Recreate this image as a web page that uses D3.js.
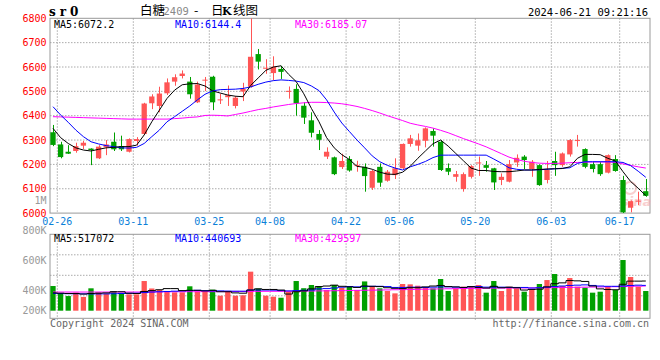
<html>
<head>
<script src="https://d3js.org/d3.v7.min.js"></script>
<style>
  body { margin: 0; background: #fff; }
  svg text { font-family: "DejaVu Sans Mono", monospace; font-size: 10px; }
</style>
</head>
<body>
<svg id="kline" width="660" height="360"></svg>
<script>
// trading days shown (02-23 .. 06-20)
const dates = ['02-23','02-26','02-27','02-28','02-29','03-01','03-04','03-05','03-06','03-07',
  '03-08','03-11','03-12','03-13','03-14','03-15','03-18','03-19','03-20','03-21',
  '03-22','03-25','03-26','03-27','03-28','03-29','04-01','04-02','04-03','04-08',
  '04-09','04-10','04-11','04-12','04-15','04-16','04-17','04-18','04-19','04-22',
  '04-23','04-24','04-25','04-26','04-29','04-30','05-06','05-07','05-08','05-09',
  '05-10','05-13','05-14','05-15','05-16','05-17','05-20','05-21','05-22','05-23',
  '05-24','05-27','05-28','05-29','05-30','05-31','06-03','06-04','06-05','06-06',
  '06-07','06-11','06-12','06-13','06-14','06-17','06-18','06-19','06-20'];

const open = [6332,6282,6252,6255,6277,6265,6225,6270,6293,6275, 6252,6296,6325,6451,6440,6492,6540,6563,6540,6455,
  6545,6560,6463,6476,6440,6499,6519,6653,6594,6575, 6592,6499,6510,6441,6381,6325,6232,6229,6189,6222,
  6194,6190,6104,6190,6133,6156,6184,6284,6277,6297, 6337,6293,6185,6149,6099,6149,6206,6197,6184,6136,
  6129,6208,6232,6181,6197,6136,6214,6197,6241,6296, 6263,6201,6201,6166,6222,6136,6022,6048,6090];
const high = [6362,6293,6279,6289,6296,6266,6279,6300,6331,6318, 6307,6312,6453,6488,6519,6553,6570,6586,6559,6540,
  6559,6564,6490,6524,6481,6535,6800,6674,6632,6644, 6605,6520,6529,6455,6414,6341,6270,6232,6244,6234,
  6215,6204,6177,6204,6177,6225,6286,6321,6327,6352, 6348,6300,6204,6173,6167,6197,6232,6214,6186,6163,
  6218,6241,6238,6218,6200,6214,6252,6249,6304,6321, 6266,6211,6211,6241,6238,6153,6052,6088,6140];
const low = [6275,6225,6243,6248,6263,6197,6222,6238,6255,6255, 6249,6277,6321,6427,6414,6485,6523,6553,6470,6452,
  6501,6423,6448,6440,6430,6460,6515,6590,6572,6545, 6551,6470,6400,6366,6311,6259,6222,6156,6181,6170,
  6170,6088,6095,6108,6129,6140,6181,6273,6256,6270, 6273,6173,6156,6129,6088,6142,6153,6170,6095,6115,
  6126,6190,6181,6149,6112,6122,6153,6190,6232,6273, 6184,6167,6153,6163,6170,6000,6003,6033,6067];
const close = [6280,6230,6244,6275,6289,6259,6273,6282,6262,6262, 6304,6304,6450,6479,6491,6537,6558,6573,6488,6528,
  6548,6455,6467,6484,6474,6510,6642,6622,6597,6601, 6580,6502,6451,6392,6330,6301,6252,6160,6214,6175,
  6197,6152,6173,6125,6170,6184,6284,6307,6299,6348, 6318,6177,6170,6160,6160,6193,6208,6186,6126,6149,
  6201,6227,6218,6211,6115,6177,6197,6245,6300,6300, 6190,6181,6160,6238,6173,6003,6049,6051,6071];

// moving averages as drawn on the chart
const ma5 = [6348,6310,6286,6268,6259,6255,6262,6268,6270,6273, 6273,6279,6321,6375,6423,6471,6505,6527,6531,6532,
  6522,6502,6493,6485,6480,6478,6524,6555,6586,6600, 6605,6570,6540,6490,6430,6375,6310,6268,6240,6220,
  6192,6188,6180,6168,6160,6159,6168,6192,6225,6255, 6285,6300,6275,6245,6215,6185,6175,6175,6171,6170,
  6170,6173,6177,6177,6179,6181,6182,6183,6190,6225, 6241,6241,6240,6225,6214,6170,6130,6102,6072];
const ma10 = [6437,6403,6373,6341,6314,6293,6284,6277,6273,6268, 6267,6270,6286,6314,6341,6375,6396,6418,6440,6465,
  6488,6502,6507,6508,6509,6512,6518,6529,6538,6544, 6547,6545,6542,6536,6522,6503,6465,6415,6370,6335,
  6300,6268,6235,6211,6196,6185,6177,6190,6200,6212, 6228,6238,6238,6238,6238,6238,6238,6238,6222,6205,
  6186,6180,6177,6177,6178,6180,6182,6184,6186,6204, 6211,6211,6211,6211,6211,6208,6195,6172,6147];
const ma30 = [6396,6395,6394,6393,6392,6391,6390,6389,6388,6387, 6386,6386,6386,6386,6386,6386,6388,6390,6393,6395,
  6401,6402,6401,6399,6405,6411,6418,6425,6430,6436, 6441,6446,6450,6453,6455,6455,6454,6452,6449,6444,
  6438,6430,6421,6411,6400,6390,6380,6369,6362,6356, 6349,6340,6330,6318,6306,6295,6284,6272,6258,6244,
  6230,6220,6213,6208,6205,6204,6204,6205,6207,6208, 6209,6210,6210,6210,6208,6202,6196,6190,6185];

// volume, in thousands of lots
const volume = [430,305,255,315,240,390,318,294,343,294, 285,285,517,387,360,335,320,320,425,335,
  335,367,261,343,261,268,680,387,261,244, 226,333,517,392,448,430,361,448,400,430,
  361,510,430,390,343,302,465,459,435,412, 389,552,343,389,418,418,447,314,517,343,
  418,389,331,360,465,534,639,430,569,418, 401,314,331,418,360,883,587,418,343];
const volMa5 = [310,305,300,300,290,300,305,310,330,330, 305,300,335,350,365,385,385,350,355,355,
  345,355,330,330,310,305,360,380,370,370, 360,290,330,345,380,420,430,445,425,415,
  405,430,425,420,400,390,385,400,400,415, 430,440,420,415,405,420,405,395,425,400,
  410,400,360,370,375,415,470,485,525,520, 510,430,380,370,365,460,515,515,517];
const volMa10 = [300,298,296,295,293,292,292,293,295,300, 302,305,315,325,330,335,340,345,350,355,
  350,345,345,342,340,340,360,360,360,358, 350,345,350,355,360,380,385,395,410,420,
  415,420,425,425,420,405,405,410,410,405, 410,415,415,410,405,415,420,410,410,410,
  405,405,405,395,400,410,420,430,440,445, 450,440,430,425,425,430,440,445,441];
const volMa30 = [325,325,325,325,325,325,325,325,325,325, 325,325,326,327,328,329,330,330,331,331,
  332,332,333,333,334,334,336,337,338,338, 338,338,340,342,343,345,346,348,350,352,
  354,356,358,360,362,365,367,370,372,375, 378,380,382,384,386,388,390,392,393,394,
  395,395,396,397,398,400,402,404,406,408, 410,412,414,416,418,421,424,427,430];

const tickDates = ['02-26','03-11','03-25','04-08','04-22','05-06','05-20','06-03','06-17'];
const priceTicks = [6000,6100,6200,6300,6400,6500,6600,6700,6800];
const volTicks = [800000,600000,400000,200000];

const svg = d3.select('#kline');
const left = 50, right = 650;
const pTop = 18.3, pBottom = 213.1;
const vTop = 234.3, vBottom = 318.3, vBase = 310.7;
const red = '#ff5555', green = '#00a000', gridColor = '#aaaaaa', frame = '#999999';

const x = d3.scalePoint().domain(dates).range([53, 645.8]);
const y = d3.scaleLinear().domain([6000, 6800]).range([pBottom, pTop]);
const yv = d3.scaleLinear().domain([0, 1000]).range([vBase, vBase - 57.4]);
const yvLabel = d3.scaleLinear().domain([400000, 800000]).range([290.3, 230.5]);
const bodyW = 5.3;

// header
svg.append('text').attr('x', 49).attr('y', 16)
  .style('font-family', '"DejaVu Serif", serif').style('font-size', '12px').style('font-weight', 'bold')
  .style('letter-spacing', '4px').text('sr0');
const title = svg.append('text').attr('y', 15)
  .style('font-family', '"Noto Sans CJK SC", sans-serif').style('font-size', '12.5px');
title.append('tspan').attr('x', 140).text('白糖');
title.append('tspan').attr('x', 163.5).attr('fill', '#888').style('font-family', '"DejaVu Sans Mono", monospace').style('font-size', '10.5px').text('2409');
title.append('tspan').attr('x', 194).text('-');
title.append('tspan').attr('x', 211).text('日');
title.append('tspan').attr('x', 222).style('font-family', '"DejaVu Serif", serif').style('font-weight', 'bold').style('font-size', '11px').text('K');
title.append('tspan').attr('x', 233).text('线图');
svg.append('text').attr('x', 648).attr('y', 16).attr('text-anchor', 'end')
  .style('font-size', '10.5px').text('2024-06-21 09:21:16');

// price grid
const grid = svg.append('g');
grid.selectAll('line.h').data(priceTicks.filter(d => d > 6000 && d < 6800)).join('line')
  .attr('x1', left).attr('x2', right).attr('y1', d => y(d)).attr('y2', d => y(d))
  .attr('stroke', gridColor).attr('stroke-dasharray', '1.5,1.5');
grid.selectAll('line.vp').data(tickDates).join('line')
  .attr('x1', d => x(d) - 3.3).attr('x2', d => x(d) - 3.3).attr('y1', pTop).attr('y2', pBottom)
  .attr('stroke', gridColor).attr('stroke-dasharray', '1.5,1.5');
grid.append('g').selectAll('line').data([vTop + 20.5, vTop + 41, vTop + 61.5]).join('line')
  .attr('x1', left).attr('x2', right).attr('y1', d => d).attr('y2', d => d)
  .attr('stroke', gridColor).attr('stroke-dasharray', '1.5,1.5');
grid.append('g').selectAll('line').data(tickDates).join('line')
  .attr('x1', d => x(d) - 3.3).attr('x2', d => x(d) - 3.3).attr('y1', vTop).attr('y2', vBottom + 3)
  .attr('stroke', gridColor).attr('stroke-dasharray', '1.5,1.5');

// frames
svg.append('rect').attr('x', left).attr('y', pTop).attr('width', right - left).attr('height', pBottom - pTop)
  .attr('fill', 'none').attr('stroke', frame);
svg.append('rect').attr('x', left).attr('y', vTop).attr('width', right - left).attr('height', vBottom - vTop)
  .attr('fill', 'none').attr('stroke', frame);

// axis labels
svg.append('g').selectAll('text').data(priceTicks).join('text')
  .attr('x', 46.5).attr('y', d => y(d)).attr('text-anchor', 'end').attr('dominant-baseline', 'central')
  .attr('fill', '#ff0000').text(d => d);
svg.append('text').attr('x', 46.5).attr('y', 200.7).attr('text-anchor', 'end').attr('dominant-baseline', 'central')
  .attr('fill', '#999').text('1M');
svg.append('g').selectAll('text').data(volTicks).join('text')
  .attr('x', 46.5).attr('y', d => Math.min(yvLabel(d), 310.5)).attr('text-anchor', 'end').attr('dominant-baseline', 'central')
  .attr('fill', '#999').text(d => (d / 1000) + 'K');
svg.append('g').selectAll('text').data(tickDates).join('text')
  .attr('x', d => x(d) - 3.3).attr('y', 221.5).attr('text-anchor', 'middle').attr('dominant-baseline', 'central')
  .attr('fill', '#0a80d8').text(d => d);

// sina watermark
const wm = svg.append('g').attr('opacity', 0.5);
wm.append('circle').attr('cx', 630).attr('cy', 188).attr('r', 6).attr('fill', 'none').attr('stroke', '#f4a0a0').attr('stroke-width', 2);
wm.append('text').attr('x', 621).attr('y', 206).attr('fill', '#f4a0a0')
  .style('font-family', '"DejaVu Sans", sans-serif').style('font-size', '13px').style('font-weight', 'bold')
  .style('font-style', 'italic').text('sina');

// candles
svg.append('clipPath').attr('id', 'pclip').append('rect')
  .attr('x', left).attr('y', pTop).attr('width', right - left).attr('height', pBottom - pTop);
const idx = d3.range(dates.length);
const candles = svg.append('g').attr('clip-path', 'url(#pclip)');
const col = i => close[i] >= open[i] ? red : green;
candles.selectAll('line').data(idx).join('line')
  .attr('x1', i => Math.round(x(dates[i])) + 0.5).attr('x2', i => Math.round(x(dates[i])) + 0.5)
  .attr('y1', i => y(high[i])).attr('y2', i => y(low[i])).attr('stroke', col);
candles.selectAll('rect').data(idx).join('rect')
  .attr('x', i => x(dates[i]) - bodyW / 2).attr('width', bodyW)
  .attr('y', i => y(Math.max(open[i], close[i])))
  .attr('height', i => Math.max(1, Math.abs(y(open[i]) - y(close[i]))))
  .attr('fill', col);

const maLine = (arr) => d3.line().x((d, i) => x(dates[i])).y(d => y(d))(arr);
const lines = svg.append('g').attr('clip-path', 'url(#pclip)').attr('fill', 'none');
lines.append('path').attr('d', maLine(ma30)).attr('stroke', '#ff00ff');
lines.append('path').attr('d', maLine(ma10)).attr('stroke', '#0000ff');
lines.append('path').attr('d', maLine(ma5)).attr('stroke', '#000');

svg.append('text').attr('x', 54).attr('y', 24).attr('dominant-baseline', 'central').text('MA5:6072.2');
svg.append('text').attr('x', 175).attr('y', 24).attr('dominant-baseline', 'central').attr('fill', '#0000ff').text('MA10:6144.4');
svg.append('text').attr('x', 295).attr('y', 24).attr('dominant-baseline', 'central').attr('fill', '#ff00ff').text('MA30:6185.07');

// volume
svg.append('g').selectAll('rect').data(idx).join('rect')
  .attr('x', i => x(dates[i]) - bodyW / 2).attr('width', bodyW)
  .attr('y', i => yv(volume[i])).attr('height', i => vBase - yv(volume[i]))
  .attr('fill', col);
const volLine = (arr) => d3.line().curve(d3.curveStep).x((d, i) => x(dates[i])).y(d => yv(d))(arr);
const vlines = svg.append('g').attr('fill', 'none');
vlines.append('path').attr('d', volLine(volMa30)).attr('stroke', '#ff00ff');
vlines.append('path').attr('d', volLine(volMa10)).attr('stroke', '#0000ff');
vlines.append('path').attr('d', volLine(volMa5)).attr('stroke', '#000');

svg.append('text').attr('x', 54).attr('y', 238.5).attr('dominant-baseline', 'central').text('MA5:517072');
svg.append('text').attr('x', 175).attr('y', 238.5).attr('dominant-baseline', 'central').attr('fill', '#0000ff').text('MA10:440693');
svg.append('text').attr('x', 295).attr('y', 238.5).attr('dominant-baseline', 'central').attr('fill', '#ff00ff').text('MA30:429597');

// footer
svg.append('text').attr('x', 50).attr('y', 323.5).attr('dominant-baseline', 'central').attr('fill', '#666').text('Copyright 2024 SINA.COM');
svg.append('text').attr('x', 649).attr('y', 323.5).attr('text-anchor', 'end').attr('dominant-baseline', 'central').attr('fill', '#666').text('http://finance.sina.com.cn');
</script>
</body>
</html>
